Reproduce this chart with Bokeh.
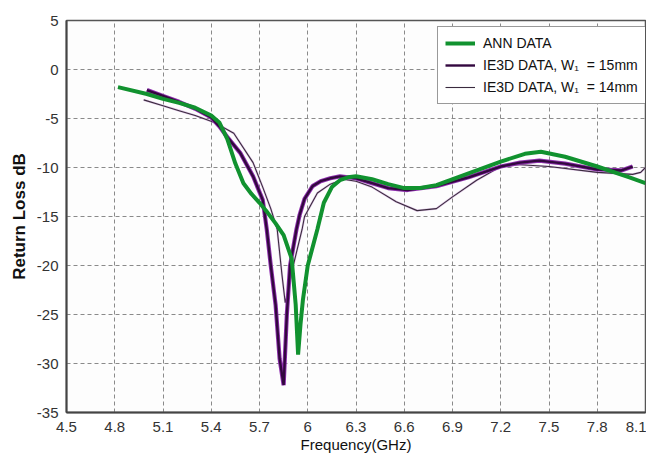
from bokeh.plotting import figure
from bokeh.models import Legend, LegendItem, FixedTicker, Range1d
from bokeh.embed import file_html
from bokeh.resources import INLINE

# ANN DATA
ann_x = [4.82, 5.0, 5.1, 5.2, 5.3, 5.4, 5.45, 5.5, 5.55, 5.6, 5.65, 5.7, 5.75, 5.8, 5.85, 5.9,
         5.925, 5.94, 5.955, 5.97, 6.0, 6.06, 6.1, 6.15, 6.2, 6.25, 6.3, 6.4, 6.5, 6.6, 6.7, 6.8,
         7.0, 7.2, 7.35, 7.45, 7.6, 7.8, 8.0, 8.1]
ann_y = [-1.8, -2.5, -3.0, -3.4, -3.9, -4.7, -5.4, -7.1, -9.6, -11.6, -12.7, -13.6, -14.6, -15.7,
         -16.9, -19.3, -24.0, -29.1, -26.0, -23.5, -20.0, -16.3, -13.6, -12.0, -11.3, -11.0, -10.9,
         -11.2, -11.7, -12.1, -12.1, -11.8, -10.6, -9.4, -8.6, -8.4, -8.9, -9.9, -11.0, -11.6]

# IE3D DATA, W1 = 15mm
w15_x = [5.0, 5.1, 5.2, 5.3, 5.4, 5.45, 5.5, 5.58, 5.66, 5.72, 5.745, 5.77, 5.80, 5.825, 5.85,
         5.87, 5.89, 5.93, 5.95, 5.98, 6.03, 6.08, 6.14, 6.2, 6.3, 6.4, 6.5, 6.62, 6.8, 7.0, 7.2,
         7.32, 7.44, 7.6, 7.8, 7.95, 8.02]
w15_y = [-2.1, -2.7, -3.3, -4.0, -4.9, -5.8, -6.9, -8.5, -10.9, -13.3, -16.3, -20.0, -24.0, -29.5,
         -32.2, -25.0, -20.0, -16.3, -14.8, -13.2, -11.9, -11.4, -11.1, -10.9, -11.1, -11.6, -12.1,
         -12.3, -11.9, -11.0, -9.9, -9.5, -9.3, -9.6, -10.2, -10.3, -9.9]

# IE3D DATA, W1 = 14mm
w14_x = [4.98, 5.1, 5.2, 5.3, 5.42, 5.54, 5.66, 5.72, 5.77, 5.81, 5.84, 5.86, 5.88, 5.91, 5.965,
         5.98, 6.06, 6.14, 6.22, 6.3, 6.4, 6.55, 6.68, 6.8, 6.9, 7.05, 7.2, 7.3, 7.5, 7.8, 8.02,
         8.07, 8.1]
w14_y = [-3.1, -3.7, -4.2, -4.7, -5.4, -6.5, -9.5, -12.0, -14.2, -16.3, -21.0, -23.8, -22.5, -20.0,
         -16.3, -15.0, -12.6, -11.7, -11.2, -11.4, -12.0, -13.5, -14.4, -14.2, -13.0, -11.3, -9.9,
         -9.7, -9.9, -10.5, -10.7, -10.5, -10.0]

x_ticks = [4.5, 4.8, 5.1, 5.4, 5.7, 6.0, 6.3, 6.6, 6.9, 7.2, 7.5, 7.8, 8.1]
x_tick_labels = ["4.5", "4.8", "5.1", "5.4", "5.7", "6", "6.3", "6.6", "6.9", "7.2", "7.5", "7.8", "8.1"]
y_ticks = [5, 0, -5, -10, -15, -20, -25, -30, -35]
y_tick_labels = ["5", "0", "-5", "-10", "-15", "-20", "-25", "-30", "-35"]

FONT = "Liberation Sans"

p = figure(width=646, height=460, output_backend="svg", toolbar_location=None,
           x_range=Range1d(4.5, 8.1), y_range=Range1d(-35, 5),
           min_border_left=66, min_border_right=1, min_border_top=20, min_border_bottom=48)

p.background_fill_color = "#fdfdfd"
p.border_fill_color = "#ffffff"
p.outline_line_color = "#555555"
p.outline_line_width = 1.5

for ax in (p.xaxis[0], p.yaxis[0]):
    ax.major_tick_out = 0
    ax.major_tick_in = 0
    ax.minor_tick_out = 0
    ax.minor_tick_in = 0
    ax.axis_line_color = "#444444"
    ax.axis_line_width = 2
    ax.major_label_text_font = FONT
    ax.major_label_text_font_size = "15px"
    ax.major_label_text_color = "#333333"
    ax.axis_label_text_font = FONT
    ax.axis_label_text_color = "#111111"

p.xaxis.ticker = FixedTicker(ticks=x_ticks)
p.xaxis.major_label_overrides = {t: l for t, l in zip(x_ticks, x_tick_labels)}
p.yaxis.ticker = FixedTicker(ticks=y_ticks)
p.yaxis.major_label_overrides = {t: l for t, l in zip(y_ticks, y_tick_labels)}
p.xaxis.axis_label = "Frequency(GHz)"
p.yaxis.axis_label = "Return Loss dB"
p.yaxis.axis_label_text_font_style = "bold"
p.yaxis.axis_label_text_font_size = "17px"
p.xaxis.axis_label_text_font_style = "normal"
p.xaxis.axis_label_text_font_size = "15px"
p.xaxis.major_label_standoff = 9
p.yaxis.major_label_standoff = 8
p.xaxis.axis_label_standoff = 1
p.yaxis.axis_label_standoff = 5

for g in (p.xgrid[0], p.ygrid[0]):
    g.grid_line_color = "#8a8a8a"
    g.grid_line_dash = "4 3"
    g.grid_line_width = 1

# thin curve (14mm)
p.line(w14_x, w14_y, line_color="#c9a0d6", line_width=2.2, line_alpha=0.6)
r14 = p.line(w14_x, w14_y, line_color="#3a2a3e", line_width=1.1)
# thick purple curve (15mm)
p.line(w15_x, w15_y, line_color="#8e2fae", line_width=4.2)
r15 = p.line(w15_x, w15_y, line_color="#33083f", line_width=2.4)
# ANN curve
rann = p.line(ann_x, ann_y, line_color="#11922f", line_width=4)

legend = Legend(items=[
    LegendItem(label="ANN DATA", renderers=[rann]),
    LegendItem(label="IE3D DATA, W\u2081  = 15mm", renderers=[r15]),
    LegendItem(label="IE3D DATA, W\u2081  = 14mm", renderers=[r14]),
], location=(371, 308))
legend.label_text_font = FONT
legend.label_text_font_size = "14px"
legend.label_text_color = "#111111"
legend.border_line_color = "#333333"
legend.border_line_width = 1.5
legend.background_fill_color = "#ffffff"
legend.background_fill_alpha = 1
legend.glyph_width = 30
legend.glyph_height = 18
legend.label_height = 18
legend.spacing = 4
legend.padding = 7
legend.margin = 0
legend.label_standoff = 8
p.add_layout(legend, "center")

open("out.html", "w").write(file_html(p, INLINE))
